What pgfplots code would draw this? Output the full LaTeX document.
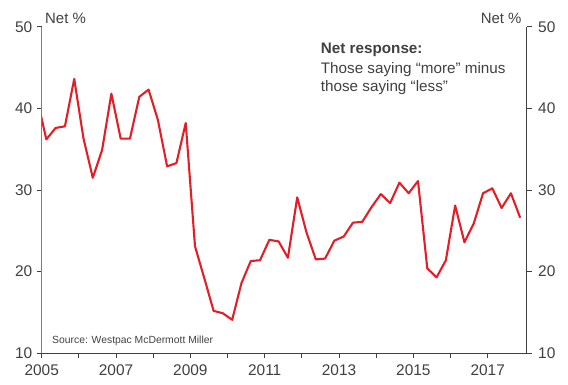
\documentclass[border=0pt]{standalone}
\usepackage{pgfplots}
\usepackage{pgfplotstable}
\pgfplotsset{compat=1.18}
\usepackage{fontspec}
\setmainfont{Liberation Sans}
\definecolor{wred}{RGB}{228,30,38}
\definecolor{txt}{RGB}{64,64,64}
\definecolor{lgray}{RGB}{128,128,128}
\pgfplotstableread{
year val
2004.875 41.2
2005.125 36.2
2005.375 37.6
2005.625 37.8
2005.875 43.6
2006.125 36.3
2006.375 31.5
2006.625 34.9
2006.875 41.8
2007.125 36.3
2007.375 36.3
2007.625 41.4
2007.875 42.3
2008.125 38.6
2008.375 32.9
2008.625 33.3
2008.875 38.2
2009.125 23.1
2009.375 19.2
2009.625 15.2
2009.875 14.9
2010.125 14.1
2010.375 18.6
2010.625 21.3
2010.875 21.4
2011.125 23.9
2011.375 23.7
2011.625 21.7
2011.875 29.1
2012.125 24.8
2012.375 21.5
2012.625 21.6
2012.875 23.8
2013.125 24.3
2013.375 26.0
2013.625 26.1
2013.875 27.9
2014.125 29.5
2014.375 28.4
2014.625 30.9
2014.875 29.6
2015.125 31.1
2015.375 20.4
2015.625 19.3
2015.875 21.4
2016.125 28.1
2016.375 23.6
2016.625 25.9
2016.875 29.6
2017.125 30.2
2017.375 27.8
2017.625 29.6
2017.875 26.6
}\data
\begin{document}
\begin{tikzpicture}
\pgfplotsset{
  common/.style={
    at={(0,0)}, anchor=south west, scale only axis,
    width=485bp, height=326.6bp,
    xmin=2005, xmax=2018.05, ymin=10, ymax=50,
    ytick={10,20,30,40,50},
    tick align=outside, major tick length=5bp, minor tick length=5bp,
    tick style={color=txt, line width=0.8bp},
    tick label style={font=\fontsize{15.5}{18}\selectfont, text=txt},
    /pgf/number format/assume math mode=true,
    /pgf/number format/1000 sep={},
  }
}
\begin{axis}[common,
  axis x line*=bottom, axis y line*=left,
  x axis line style={color=txt, line width=0.9bp, -},
  y axis line style={color=lgray, line width=0.9bp, -},
  xtick={2005,2007,...,2017},
  minor xtick={2006,2008,...,2016},
  xticklabel style={yshift=-3bp},
  yticklabel style={xshift=-1bp},
  clip=true,
]
\addplot[color=wred, line width=2.1bp, line join=round] table[x=year,y=val]{\data};
\end{axis}
\begin{axis}[common,
  axis x line=none, axis y line*=right,
  y axis line style={color=txt, line width=0.9bp, -},
  yticklabel style={xshift=3bp},
]
\end{axis}
\node[anchor=base west, text=txt, font=\fontsize{15}{18}\selectfont, inner sep=0pt] at (3.3bp,330bp) {Net \%};
\node[anchor=base east, text=txt, font=\fontsize{15}{18}\selectfont, inner sep=0pt] at (480bp,330bp) {Net \%};
\node[anchor=base west, text=txt, font=\fontsize{15.3}{18}\selectfont\bfseries, inner sep=0pt] at (279bp,299.3bp) {Net response:};
\node[anchor=base west, text=txt, font=\fontsize{15.3}{18}\selectfont, inner sep=0pt] at (279bp,280bp) {Those saying “more” minus};
\node[anchor=base west, text=txt, font=\fontsize{15.3}{18}\selectfont, inner sep=0pt] at (279bp,261.6bp) {those saying “less”};
\node[anchor=base west, text=txt, font=\fontsize{10.4}{12}\selectfont, inner sep=0pt] at (10.3bp,10bp) {Source: Westpac McDermott Miller};
\pgfresetboundingbox
\path (-41.7bp,-31.7bp) rectangle (526.3bp,353.3bp);
\end{tikzpicture}
\end{document}
